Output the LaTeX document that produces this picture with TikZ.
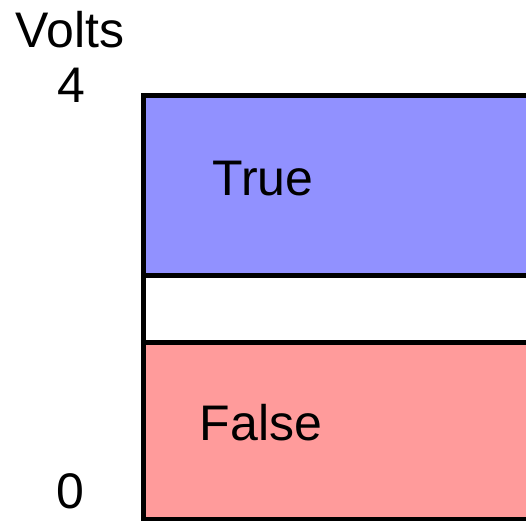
\documentclass[tikz,border=0pt]{standalone}
\usepackage{fontspec}
\setmainfont{Liberation Sans}
\definecolor{truecol}{RGB}{145,145,255}
\definecolor{falsecol}{RGB}{255,155,155}
\tikzset{
  band/.style={line width=5pt},
  lbl/.style={anchor=base, inner sep=0pt, font=\fontsize{50}{50}\selectfont}
}

\begin{document}
\begin{tikzpicture}[x=1pt,y=-1pt]
  \useasboundingbox (0,0) rectangle (526,520);
  \clip (0,0) rectangle (526,520);
  % logic regions
  \fill[truecol] (143,95) rectangle (540,275);
  \fill[falsecol] (143,342) rectangle (540,519);
  \draw[band] (540,95) -- (143,95) -- (143,519) -- (540,519);
  \draw[band] (143,275) -- (540,275);
  \draw[band] (143,342) -- (540,342);
  % labels
  \node[lbl] (volts) at (70,47) {Volts};
  \node[lbl] (four) at (71,102) {4};
  \node[lbl] (zero) at (70,508) {0};
  \node[lbl] (true) at (263,195) {True};
  \node[lbl] (false) at (261,440) {False};
\end{tikzpicture}
\end{document}
